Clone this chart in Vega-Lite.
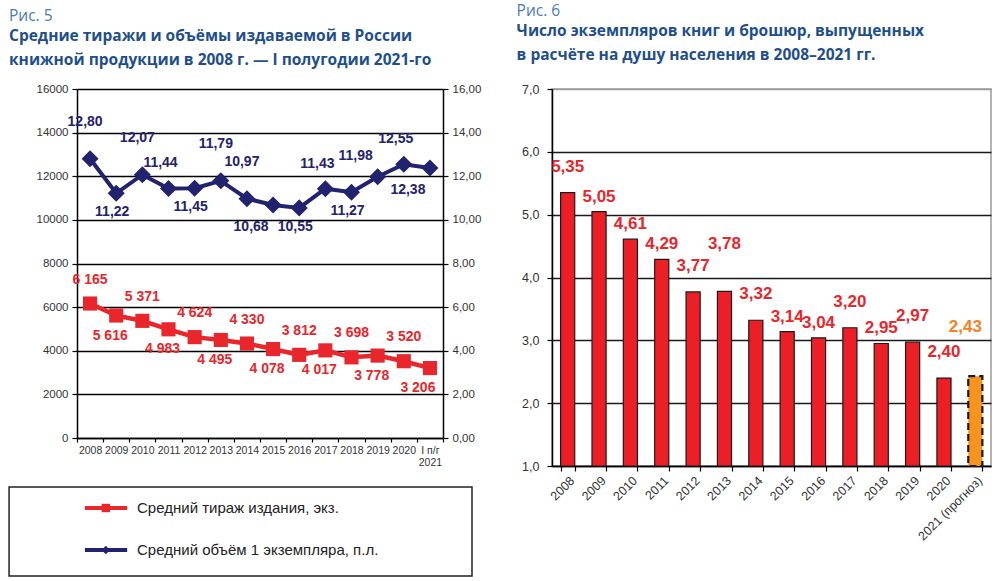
{
  "$schema": "https://vega.github.io/schema/vega-lite/v6.json",
  "background": "white",
  "padding": {"left": 8, "top": 3, "right": 4, "bottom": 2},
  "config": {
    "locale": {"number": {"decimal": ",", "thousands": " ", "grouping": [3], "currency": ["", ""]}},
    "font": "Liberation Sans",
    "view": {"stroke": null},
    "axis": {
      "title": null,
      "labelFont": "Liberation Sans",
      "labelColor": "#333333",
      "domainColor": "#000000",
      "domainWidth": 1.5,
      "tickColor": "#000000",
      "tickWidth": 1.2
    }
  },
  "datasets": {
    "editions": [
      {"year": "2008", "tirazh": 6165, "obem": 12.80},
      {"year": "2009", "tirazh": 5616, "obem": 11.22},
      {"year": "2010", "tirazh": 5371, "obem": 12.07},
      {"year": "2011", "tirazh": 4983, "obem": 11.44},
      {"year": "2012", "tirazh": 4624, "obem": 11.45},
      {"year": "2013", "tirazh": 4495, "obem": 11.79},
      {"year": "2014", "tirazh": 4330, "obem": 10.97},
      {"year": "2015", "tirazh": 4078, "obem": 10.68},
      {"year": "2016", "tirazh": 3812, "obem": 10.55},
      {"year": "2017", "tirazh": 4017, "obem": 11.43},
      {"year": "2018", "tirazh": 3698, "obem": 11.27},
      {"year": "2019", "tirazh": 3778, "obem": 11.98},
      {"year": "2020", "tirazh": 3520, "obem": 12.55},
      {"year": "I п/г 2021", "tirazh": 3206, "obem": 12.38}
    ],
    "legendItems": [
      {"series": "Средний тираж издания, экз."},
      {"series": "Средний объём 1 экземпляра, п.л."}
    ],
    "perCapita": [
      {"year": "2008", "value": 5.35},
      {"year": "2009", "value": 5.05},
      {"year": "2010", "value": 4.61},
      {"year": "2011", "value": 4.29},
      {"year": "2012", "value": 3.77},
      {"year": "2013", "value": 3.78},
      {"year": "2014", "value": 3.32},
      {"year": "2015", "value": 3.14},
      {"year": "2016", "value": 3.04},
      {"year": "2017", "value": 3.20},
      {"year": "2018", "value": 2.95},
      {"year": "2019", "value": 2.97},
      {"year": "2020", "value": 2.40},
      {"year": "2021 (прогноз)", "value": 2.43}
    ]
  },
  "spacing": 34,
  "hconcat": [
    {
      "spacing": 18,
      "vconcat": [
        {
          "width": 366,
          "height": 349,
          "title": {
            "text": "Рис. 5",
            "subtitle": ["Средние тиражи и объёмы издаваемой в России", "книжной продукции в 2008 г. — I полугодии 2021-го"],
            "anchor": "start",
            "frame": "bounds",
            "dx": -27,
            "font": "Open Sans",
            "fontSize": 15.5,
            "fontWeight": "normal",
            "color": "#4a7ab8",
            "subtitleFont": "Open Sans",
            "subtitleFontSize": 15.5,
            "subtitleFontWeight": "bold",
            "subtitleColor": "#1e4f8c",
            "subtitleLineHeight": 24,
            "subtitlePadding": 4,
            "offset": 15
          },
          "data": {"name": "editions"},
          "encoding": {
            "x": {
              "field": "year",
              "type": "ordinal",
              "sort": null,
              "scale": {"type": "band", "paddingInner": 0, "paddingOuter": 0},
              "axis": {
                "labelAngle": 0,
                "labelFontSize": 10.5,
                "labelPadding": 3,
                "tickBand": "extent",
                "tickSize": 4,
                "labelExpr": "datum.value == 'I п/г 2021' ? ['I п/г', '2021'] : datum.value"
              }
            }
          },
          "layer": [
            {
              "encoding": {
                "y": {
                  "field": "tirazh",
                  "type": "quantitative",
                  "scale": {"domain": [0, 16000]},
                  "axis": {
                    "orient": "left",
                    "values": [0, 2000, 4000, 6000, 8000, 10000, 12000, 14000, 16000],
                    "format": "d",
                    "labelFontSize": 11.5,
                    "labelPadding": 4,
                    "tickSize": 5,
                    "grid": true,
                    "gridColor": "#000000",
                    "gridWidth": 1.3
                  }
                }
              },
              "layer": [
                {"mark": {"type": "line", "color": "#e8262b", "strokeWidth": 4.5}},
                {"mark": {"type": "point", "shape": "square", "filled": true, "opacity": 1, "size": 200, "color": "#e8262b"}},
                {
                  "transform": [{"filter": {"field": "year", "oneOf": ["2008", "2010", "2012", "2014", "2016", "2018", "2020"]}}],
                  "mark": {"type": "text", "dy": -24, "baseline": "middle", "fontSize": 14, "fontWeight": "bold", "color": "#e8262b"},
                  "encoding": {"text": {"field": "tirazh", "type": "quantitative", "format": ",d"}}
                },
                {
                  "transform": [{"filter": {"field": "year", "oneOf": ["2009", "2011", "2013", "2015", "2017", "2019"]}}],
                  "mark": {"type": "text", "dy": 20, "dx": -6, "baseline": "middle", "fontSize": 14, "fontWeight": "bold", "color": "#e8262b"},
                  "encoding": {"text": {"field": "tirazh", "type": "quantitative", "format": ",d"}}
                },
                {
                  "transform": [{"filter": {"field": "year", "oneOf": ["I п/г 2021"]}}],
                  "mark": {"type": "text", "dy": 20, "dx": -12, "baseline": "middle", "fontSize": 14, "fontWeight": "bold", "color": "#e8262b"},
                  "encoding": {"text": {"field": "tirazh", "type": "quantitative", "format": ",d"}}
                }
              ]
            },
            {
              "encoding": {
                "y": {
                  "field": "obem",
                  "type": "quantitative",
                  "scale": {"domain": [0, 16]},
                  "axis": {
                    "orient": "right",
                    "values": [0, 2, 4, 6, 8, 10, 12, 14, 16],
                    "format": ".2f",
                    "labelFontSize": 11.5,
                    "labelPadding": 4,
                    "tickSize": 5,
                    "grid": false
                  }
                }
              },
              "layer": [
                {"mark": {"type": "line", "color": "#22226e", "strokeWidth": 4}},
                {"mark": {"type": "point", "shape": "diamond", "filled": true, "opacity": 1, "size": 290, "color": "#22226e"}},
                {
                  "transform": [{"filter": {"field": "year", "oneOf": ["2008", "2010", "2013", "2014"]}}],
                  "mark": {"type": "text", "dy": -37, "dx": -5, "baseline": "middle", "fontSize": 14, "fontWeight": "bold", "color": "#22226e"},
                  "encoding": {"text": {"field": "obem", "type": "quantitative", "format": ".2f"}}
                },
                {
                  "transform": [{"filter": {"field": "year", "oneOf": ["2011", "2017", "2020"]}}],
                  "mark": {"type": "text", "dy": -25, "dx": -8, "baseline": "middle", "fontSize": 14, "fontWeight": "bold", "color": "#22226e"},
                  "encoding": {"text": {"field": "obem", "type": "quantitative", "format": ".2f"}}
                },
                {
                  "transform": [{"filter": {"field": "year", "oneOf": ["2019"]}}],
                  "mark": {"type": "text", "dy": -21, "dx": -22, "baseline": "middle", "fontSize": 14, "fontWeight": "bold", "color": "#22226e"},
                  "encoding": {"text": {"field": "obem", "type": "quantitative", "format": ".2f"}}
                },
                {
                  "transform": [{"filter": {"field": "year", "oneOf": ["2009", "2012", "2016", "2018"]}}],
                  "mark": {"type": "text", "dy": 19, "dx": -4, "baseline": "middle", "fontSize": 14, "fontWeight": "bold", "color": "#22226e"},
                  "encoding": {"text": {"field": "obem", "type": "quantitative", "format": ".2f"}}
                },
                {
                  "transform": [{"filter": {"field": "year", "oneOf": ["2015", "I п/г 2021"]}}],
                  "mark": {"type": "text", "dy": 22, "dx": -22, "baseline": "middle", "fontSize": 14, "fontWeight": "bold", "color": "#22226e"},
                  "encoding": {"text": {"field": "obem", "type": "quantitative", "format": ".2f"}}
                }
              ]
            }
          ],
          "resolve": {"scale": {"y": "independent"}}
        },
        {
          "width": 395,
          "height": 89,
          "layer": [
            {
              "data": {"values": [{"frame": "legend"}]},
              "mark": {"type": "rect", "fill": "white", "fillOpacity": 0, "stroke": "#222222", "strokeWidth": 1.5},
              "encoding": {
                "x": {"datum": -17.2, "type": "quantitative", "scale": {"domain": [0, 100]}, "axis": null},
                "x2": {"datum": 100},
                "y": {"datum": 0, "type": "quantitative", "scale": {"domain": [0, 1]}, "axis": null},
                "y2": {"datum": 1}
              }
            },
            {
              "data": {"name": "legendItems"},
              "encoding": {
                "y": {
                  "field": "series",
                  "type": "nominal",
                  "sort": null,
                  "scale": {"type": "point", "range": [21, 63], "padding": 0},
                  "axis": null
                }
              },
              "layer": [
                {
                  "mark": {"type": "rule", "strokeWidth": 4},
                  "encoding": {
                    "x": {"datum": 2.0, "type": "quantitative"},
                    "x2": {"datum": 12.7},
                    "color": {
                      "field": "series",
                      "type": "nominal",
                      "scale": {"domain": ["Средний тираж издания, экз.", "Средний объём 1 экземпляра, п.л."], "range": ["#e8262b", "#22226e"]},
                      "legend": null
                    }
                  }
                },
                {
                  "mark": {"type": "point", "filled": true, "opacity": 1, "size": 70},
                  "encoding": {
                    "x": {"datum": 7.3, "type": "quantitative"},
                    "color": {"field": "series", "type": "nominal", "legend": null},
                    "shape": {
                      "field": "series",
                      "type": "nominal",
                      "scale": {"domain": ["Средний тираж издания, экз.", "Средний объём 1 экземпляра, п.л."], "range": ["square", "diamond"]},
                      "legend": null
                    }
                  }
                },
                {
                  "mark": {"type": "text", "align": "left", "baseline": "middle", "fontSize": 15, "color": "#222222"},
                  "encoding": {
                    "x": {"datum": 15.2, "type": "quantitative"},
                    "text": {"field": "series"}
                  }
                }
              ]
            }
          ],
          "resolve": {"scale": {"y": "independent"}}
        }
      ]
    },
    {
      "width": 439,
      "height": 377,
      "view": {"stroke": "#9a9a9a", "strokeWidth": 1.5},
      "title": {
        "text": "Рис. 6",
        "subtitle": ["Число экземпляров книг и брошюр, выпущенных", "в расчёте на душу населения в 2008–2021 гг."],
        "anchor": "start",
        "frame": "bounds",
        "dx": -5,
        "font": "Open Sans",
        "fontSize": 15.5,
        "fontWeight": "normal",
        "color": "#4a7ab8",
        "subtitleFont": "Open Sans",
        "subtitleFontSize": 15.5,
        "subtitleFontWeight": "bold",
        "subtitleColor": "#1e4f8c",
        "subtitleLineHeight": 24,
        "subtitlePadding": 4,
        "offset": 20
      },
      "data": {"name": "perCapita"},
      "encoding": {
        "x": {
          "field": "year",
          "type": "ordinal",
          "sort": null,
          "scale": {"paddingInner": 0.55, "paddingOuter": 0.275},
          "axis": {
            "labelAngle": -45,
            "labelFontSize": 12.5,
            "labelPadding": 3,
            "tickBand": "extent",
            "tickSize": 5
          }
        }
      },
      "layer": [
        {
          "mark": {"type": "bar"},
          "encoding": {
            "y": {
              "field": "value",
              "type": "quantitative",
              "scale": {"domain": [1, 7], "zero": false},
              "axis": {
                "values": [1, 2, 3, 4, 5, 6, 7],
                "format": ".1f",
                "labelFontSize": 12.5,
                "labelPadding": 8,
                "tickSize": 5,
                "grid": true,
                "gridWidth": 1.3,
                "gridColor": {"condition": {"test": "datum.value == 7", "value": "#9a9a9a"}, "value": "#1a1a1a"}
              }
            },
            "y2": {"datum": 1},
            "fill": {"condition": {"test": "indexof(datum.year, 'прогноз') >= 0", "value": "#f7941d"}, "value": "#ec1f26"},
            "stroke": {"value": "#1a1a1a"},
            "strokeWidth": {"condition": {"test": "indexof(datum.year, 'прогноз') >= 0", "value": 2.2}, "value": 1.2},
            "strokeDash": {"condition": {"test": "indexof(datum.year, 'прогноз') >= 0", "value": [7, 4]}, "value": [1, 0]}
          }
        },
        {
          "transform": [{"filter": {"field": "year", "oneOf": ["2009", "2010", "2011", "2015", "2016", "2018"]}}],
          "mark": {"type": "text", "baseline": "alphabetic", "dy": -10, "fontSize": 17, "fontWeight": "bold", "color": "#e8262b"},
          "encoding": {
            "y": {"field": "value", "type": "quantitative"},
            "text": {"field": "value", "type": "quantitative", "format": ".2f"}
          }
        },
        {
          "transform": [{"filter": {"field": "year", "oneOf": ["2008", "2012", "2014", "2017", "2019", "2020"]}}],
          "mark": {"type": "text", "baseline": "alphabetic", "dy": -21, "fontSize": 17, "fontWeight": "bold", "color": "#e8262b"},
          "encoding": {
            "y": {"field": "value", "type": "quantitative"},
            "text": {"field": "value", "type": "quantitative", "format": ".2f"}
          }
        },
        {
          "transform": [{"filter": {"field": "year", "oneOf": ["2013"]}}],
          "mark": {"type": "text", "baseline": "alphabetic", "dy": -42, "fontSize": 17, "fontWeight": "bold", "color": "#e8262b"},
          "encoding": {
            "y": {"field": "value", "type": "quantitative"},
            "text": {"field": "value", "type": "quantitative", "format": ".2f"}
          }
        },
        {
          "transform": [{"filter": {"field": "year", "oneOf": ["2021 (прогноз)"]}}],
          "mark": {"type": "text", "baseline": "alphabetic", "dy": -44, "dx": -10, "fontSize": 17, "fontWeight": "bold", "color": "#f58220"},
          "encoding": {
            "y": {"field": "value", "type": "quantitative"},
            "text": {"field": "value", "type": "quantitative", "format": ".2f"}
          }
        }
      ]
    }
  ]
}
